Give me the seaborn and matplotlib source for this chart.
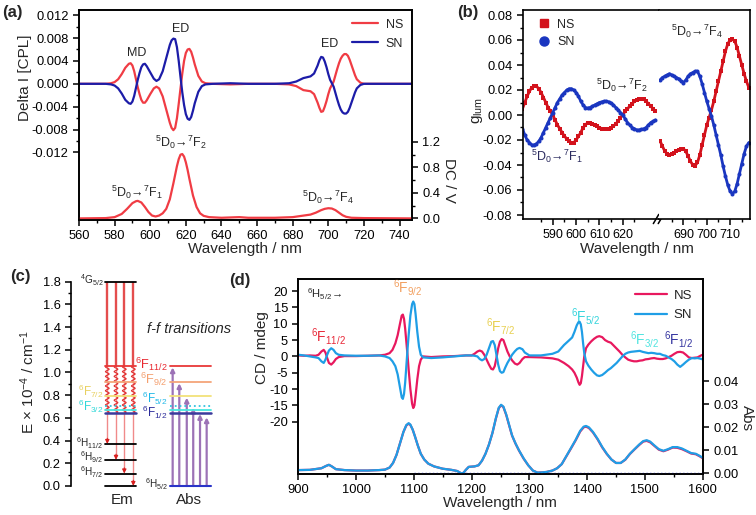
import numpy as np
import pandas as pd
import matplotlib
matplotlib.use("Agg")
import matplotlib.pyplot as plt
import seaborn as sns
from matplotlib.ticker import FixedLocator, MultipleLocator, FormatStrFormatter
from matplotlib.lines import Line2D

# ---------------- data: panel (a) CPL + emission ----------------
wl_cpl = [560, 575, 578, 580, 582, 584, 586, 588, 589, 590, 591, 592, 593, 594, 595, 596, 597, 598,
          600, 602, 603.5, 605, 607, 609, 611, 612, 613, 614, 615, 616, 617, 618, 619, 620, 621, 622,
          623, 624, 625, 627, 629, 631, 635, 645, 655, 670, 678, 682, 686, 690, 692, 694, 695, 696,
          697, 698, 699, 700, 701, 702, 703, 704, 705, 706, 707, 708, 709, 710, 711, 712, 713, 714,
          715, 716, 718, 720, 730, 747]
cpl_ns = [0, 0, 0.0001, 0.0003, 0.0008, 0.0017, 0.0028, 0.0035, 0.0036, 0.0032, 0.0022, 0.0008,
          -0.0006, -0.0018, -0.0028, -0.0033, -0.0033, -0.0029, -0.0018, -0.0008, -0.0005, -0.0008,
          -0.0022, -0.0045, -0.0068, -0.0077, -0.0081, -0.0077, -0.0060, -0.0035, -0.0008, 0.0018,
          0.0040, 0.0054, 0.0060, 0.0061, 0.0056, 0.0046, 0.0034, 0.0014, 0.0004, 0.0001, 0, -0.0001,
          0, 0, -0.0001, -0.0004, -0.0011, -0.0013, -0.0018, -0.0033, -0.0042, -0.0049, -0.0048,
          -0.0040, -0.0030, -0.0018, -0.0008, -0.0002, 0.0004, 0.0015, 0.0026, 0.0036, 0.0044,
          0.0049, 0.0052, 0.0052, 0.0049, 0.0042, 0.0033, 0.0024, 0.0015, 0.0008, 0.0002, 0, 0, 0]
cpl_sn = [0, 0, -0.0001, -0.0003, -0.0008, -0.0017, -0.0028, -0.0034, -0.0035, -0.0031, -0.0021,
          -0.0007, 0.0007, 0.0019, 0.0029, 0.0034, 0.0035, 0.0031, 0.0020, 0.0009, 0.0005, 0.0008,
          0.0022, 0.0045, 0.0068, 0.0076, 0.0079, 0.0078, 0.0064, 0.0040, 0.0012, -0.0015, -0.0037,
          -0.0053, -0.0061, -0.0063, -0.0058, -0.0047, -0.0034, -0.0014, -0.0004, -0.0001, 0, 0.0001,
          0, 0, 0.0001, 0.0004, 0.0010, 0.0013, 0.0018, 0.0032, 0.0041, 0.0047, 0.0046, 0.0039,
          0.0029, 0.0017, 0.0007, 0.0001, -0.0005, -0.0016, -0.0027, -0.0037, -0.0045, -0.0050,
          -0.0052, -0.0052, -0.0049, -0.0042, -0.0033, -0.0024, -0.0015, -0.0008, -0.0002, 0, 0, 0]
wl_em = [560, 575, 580, 584, 587, 590, 592, 593, 595, 597, 599, 601, 603, 605, 607, 609, 611, 613,
         615, 616, 617, 618, 619, 620, 621, 622, 624, 626, 628, 630, 633, 640, 650, 655, 670, 680,
         685, 690, 693, 696, 698, 700, 702, 704, 706, 708, 710, 713, 720, 747]
em_dc = [0, 0.005, 0.02, 0.07, 0.15, 0.24, 0.27, 0.275, 0.25, 0.18, 0.10, 0.045, 0.03, 0.045, 0.08,
         0.15, 0.30, 0.55, 0.82, 0.93, 1.00, 1.01, 0.97, 0.88, 0.76, 0.62, 0.36, 0.18, 0.08, 0.04,
         0.02, 0.01, 0.02, 0.01, 0.01, 0.02, 0.04, 0.06, 0.09, 0.13, 0.15, 0.16, 0.155, 0.13, 0.09,
         0.05, 0.025, 0.01, 0.005, 0]

# ---------------- data: panel (b) g_lum ----------------
wl_b1 = list(range(577, 635))
g_ns_1 = [0.005, 0.010, 0.015, 0.019, 0.022, 0.023, 0.023, 0.021, 0.018, 0.014, 0.010, 0.006, 0.003,
          0.0, -0.004, -0.008, -0.011, -0.014, -0.017, -0.019, -0.021, -0.022, -0.022, -0.020, -0.017,
          -0.014, -0.010, -0.008, -0.006, -0.006, -0.007, -0.008, -0.009, -0.010, -0.011, -0.0115,
          -0.0115, -0.011, -0.010, -0.009, -0.007, -0.005, -0.002, 0.0, 0.003, 0.005, 0.007, 0.009,
          0.011, 0.012, 0.0128, 0.013, 0.0125, 0.011, 0.009, 0.007, 0.005, 0.003]
g_sn_1 = [-0.011, -0.016, -0.020, -0.022, -0.024, -0.024, -0.023, -0.021, -0.018, -0.014, -0.010,
          -0.006, -0.002, 0.002, 0.006, 0.010, 0.013, 0.016, 0.018, 0.020, 0.021, 0.021, 0.020, 0.018,
          0.015, 0.011, 0.008, 0.006, 0.0055, 0.006, 0.007, 0.008, 0.009, 0.010, 0.0105, 0.011, 0.011,
          0.0105, 0.0095, 0.008, 0.006, 0.004, 0.002, 0.0, -0.003, -0.006, -0.008, -0.010, -0.011,
          -0.012, -0.012, -0.0115, -0.011, -0.010, -0.008, -0.006, -0.005, -0.004]
wl_b2 = list(range(680, 719))
g_ns_2 = [-0.021, -0.025, -0.029, -0.031, -0.032, -0.031, -0.030, -0.029, -0.028, -0.027, -0.027,
          -0.029, -0.033, -0.037, -0.040, -0.0405, -0.038, -0.032, -0.024, -0.016, -0.008, -0.002,
          0.004, 0.011, 0.019, 0.027, 0.035, 0.043, 0.051, 0.057, 0.060, 0.0605, 0.059, 0.054, 0.047,
          0.040, 0.033, 0.027, 0.022]
g_sn_2 = [0.028, 0.030, 0.031, 0.032, 0.033, 0.032, 0.031, 0.030, 0.029, 0.027, 0.026, 0.028, 0.031,
          0.033, 0.034, 0.035, 0.035, 0.031, 0.025, 0.018, 0.011, 0.005, -0.001, -0.008, -0.016,
          -0.024, -0.032, -0.041, -0.049, -0.056, -0.061, -0.063, -0.061, -0.055, -0.047, -0.039,
          -0.031, -0.025, -0.022]
ticks_b1 = [590, 600, 610, 620]
ticks_b2 = [690, 700, 710]

# ---------------- data: panel (c) energy levels (x 10^4 cm^-1) ----------------
em_level_names = ["$^4$G$_{5/2}$", "$^6$H$_{11/2}$", "$^6$H$_{9/2}$", "$^6$H$_{7/2}$"]
em_level_E = [1.80, 0.37, 0.23, 0.11]
f_level_E = [1.055, 0.913, 0.797, 0.708, 0.668, 0.640]
f_level_colors = ["#e83838", "#f4a57a", "#f2e27a", "#34c4e0", "#48e8e0", "#3a3a9c"]
em_targets = [0.37, 0.23, 0.11, 0.0]
abs_targets = [1.045, 0.905, 0.778, 0.690, 0.634, 0.605]

# ---------------- data: panel (d) CD + absorption ----------------
wl_cd = [900, 910, 920, 930, 935, 940, 944, 947, 950, 953, 957, 961, 965, 970, 980, 1000, 1020, 1040,
         1050, 1058, 1063, 1068, 1072, 1076, 1079, 1081, 1083, 1085, 1087, 1089, 1091, 1094, 1097,
         1099, 1101, 1103, 1106, 1109, 1112, 1116, 1130, 1150, 1170, 1190, 1200, 1205, 1210, 1214,
         1218, 1222, 1226, 1230, 1234, 1237, 1240, 1243, 1246, 1249, 1252, 1255, 1258, 1262, 1266,
         1270, 1275, 1279, 1283, 1288, 1292, 1300, 1320, 1340, 1350, 1360, 1368, 1374, 1378, 1382,
         1385, 1387, 1389, 1391, 1393, 1395, 1398, 1402, 1407, 1412, 1417, 1421, 1426, 1431, 1436,
         1441, 1446, 1451, 1456, 1461, 1466, 1471, 1476, 1481, 1486, 1491, 1496, 1501, 1506, 1511,
         1516, 1521, 1526, 1531, 1536, 1541, 1546, 1551, 1556, 1561, 1566, 1571, 1576, 1581, 1586,
         1591, 1596, 1600]
cd_ns = [0.3, 0.2, 0.3, 0.2, 0.5, 1.5, 2.0, 1.2, -0.5, -2.0, -2.5, -1.8, -0.8, -0.2, 0.1, 0.1, 0.2,
         0.3, 0.5, 1.0, 2.0, 4.0, 6.5, 10.0, 12.5, 12.8, 11.5, 8.5, 4.5, 0.5, -4.0, -10.0, -14.5,
         -15.8, -15.0, -12.0, -7.0, -3.0, -1.0, 0.0, -0.2, 0.0, 0.1, 0.3, 0.3, 0.8, 1.5, 1.8, 1.5,
         0.5, -1.0, -2.5, -3.8, -4.0, -3.0, -0.5, 2.5, 4.5, 5.3, 5.0, 3.5, 1.5, 0.0, -1.2, -2.2,
         -2.5, -2.0, -0.8, -0.2, -0.2, -0.3, -0.6, -1.0, -2.0, -3.0, -4.0, -5.0, -6.5, -8.0, -8.7,
         -8.2, -6.0, -3.0, 0.0, 2.5, 3.6, 4.6, 5.4, 6.0, 6.2, 5.9, 5.0, 4.5, 4.2, 3.3, 2.4, 1.5, 0.5,
         -0.3, -1.0, -1.3, -1.5, -1.5, -1.3, -1.2, -0.9, -0.8, -0.6, -0.5, -0.7, -0.8, -0.8, -0.6,
         -0.2, 0.2, 0.8, 1.3, 1.4, 1.2, 0.5, -0.3, -0.5, -0.4, -0.3, 0.2, 0.5]
cd_sn = [0.5, 0.3, 0.0, -0.3, -0.5, -1.5, -2.0, -1.0, 0.5, 1.8, 2.5, 2.0, 1.0, 0.5, 0.3, 0.2, 0.2,
         0.3, 0.0, -0.5, -1.5, -3.0, -5.5, -9.5, -12.5, -13.0, -11.5, -8.0, -3.0, 2.0, 6.5, 12.5,
         16.0, 16.8, 16.0, 13.0, 7.5, 3.0, 0.5, -0.3, -0.5, -0.3, 0.0, 0.3, 0.3, 0.2, 0.0, -0.8,
         -1.2, -0.8, 0.5, 2.5, 4.5, 4.7, 3.5, 0.5, -2.5, -4.5, -5.0, -4.8, -3.5, -2.0, -0.8, 0.5,
         1.6, 2.3, 2.6, 2.2, 1.2, 0.3, 0.3, 0.8, 1.5, 3.5, 4.8, 5.8, 7.5, 9.5, 10.5, 10.6, 9.8, 7.5,
         4.0, 1.0, -1.5, -2.8, -4.0, -5.0, -5.8, -6.0, -5.7, -5.0, -4.2, -3.6, -2.8, -2.0, -1.0, 0.0,
         0.8, 1.2, 1.4, 1.5, 1.6, 1.7, 1.4, 1.2, 1.0, 1.1, 1.0, 0.8, 0.8, 0.4, 0.2, -0.3, -0.8,
         -1.5, -2.5, -3.2, -2.5, -1.7, -1.0, -0.5, -0.6, -0.5, -0.7, -0.9]
wl_abs = [900, 920, 940, 948, 953, 958, 965, 980, 1000, 1020, 1040, 1050, 1058, 1064, 1070, 1076,
          1082, 1087, 1091, 1094, 1098, 1102, 1107, 1112, 1118, 1125, 1135, 1150, 1165, 1175, 1182,
          1186, 1190, 1195, 1205, 1212, 1218, 1224, 1230, 1236, 1242, 1247, 1251, 1255, 1260, 1265,
          1270, 1276, 1282, 1290, 1298, 1306, 1314, 1322, 1330, 1340, 1348, 1356, 1364, 1372, 1380,
          1388, 1394, 1398, 1403, 1410, 1418, 1426, 1434, 1442, 1450, 1458, 1466, 1474, 1482, 1490,
          1497, 1503, 1509, 1516, 1524, 1532, 1540, 1548, 1556, 1564, 1572, 1580, 1588, 1594, 1600]
abs_sn = [0.0014, 0.0015, 0.0022, 0.0032, 0.0037, 0.0030, 0.0018, 0.0014, 0.0012, 0.0012, 0.0014,
          0.0016, 0.0025, 0.0045, 0.0080, 0.0130, 0.0180, 0.0210, 0.0218, 0.0212, 0.0190, 0.0160,
          0.0120, 0.0085, 0.0060, 0.0042, 0.0030, 0.0020, 0.0015, 0.0010, 0.0, 0.0002, 0.0015,
          0.0028, 0.0030, 0.0035, 0.0055, 0.0085, 0.0125, 0.0175, 0.0240, 0.0285, 0.0298, 0.0290,
          0.0255, 0.0210, 0.0165, 0.0130, 0.0100, 0.0065, 0.0035, 0.0012, 0.0003, 0.0004, 0.0006,
          0.0012, 0.0022, 0.0040, 0.0075, 0.0110, 0.0145, 0.0185, 0.0203, 0.0206, 0.0200, 0.0180,
          0.0150, 0.0115, 0.0085, 0.0060, 0.0045, 0.0045, 0.0060, 0.0085, 0.0105, 0.0125, 0.0140,
          0.0144, 0.0138, 0.0122, 0.0105, 0.0098, 0.0105, 0.0114, 0.0114, 0.0108, 0.0098, 0.0088,
          0.0085, 0.0077, 0.0068]
abs_ns = [0.0014, 0.0015, 0.0022, 0.0032, 0.0037, 0.0030, 0.0018, 0.0014, 0.0012, 0.0012, 0.0014,
          0.0016, 0.0025, 0.0045, 0.0080, 0.0130, 0.0180, 0.0208, 0.0216, 0.0210, 0.0190, 0.0160,
          0.0120, 0.0085, 0.0060, 0.0042, 0.0030, 0.0020, 0.0015, 0.0010, 0.0, 0.0002, 0.0015,
          0.0028, 0.0030, 0.0035, 0.0055, 0.0085, 0.0125, 0.0175, 0.0238, 0.0283, 0.0296, 0.0288,
          0.0253, 0.0208, 0.0164, 0.0129, 0.0099, 0.0064, 0.0035, 0.0012, 0.0003, 0.0004, 0.0006,
          0.0012, 0.0022, 0.0040, 0.0074, 0.0108, 0.0143, 0.0182, 0.0200, 0.0203, 0.0197, 0.0178,
          0.0148, 0.0113, 0.0084, 0.0060, 0.0045, 0.0045, 0.0059, 0.0084, 0.0104, 0.0123, 0.0138,
          0.0141, 0.0135, 0.0120, 0.0103, 0.0096, 0.0103, 0.0112, 0.0111, 0.0105, 0.0096, 0.0086,
          0.0083, 0.0075, 0.0066]

# ---------------- style ----------------
sns.set_style("ticks")
plt.rcParams.update({
    "font.family": ["Liberation Sans", "DejaVu Sans"],
    "font.size": 9.3,
    "axes.linewidth": 1.2,
    "axes.edgecolor": "black",
    "xtick.color": "black", "ytick.color": "black",
    "xtick.labelcolor": "black", "ytick.labelcolor": "black",
    "xtick.direction": "out", "ytick.direction": "out",
    "xtick.major.size": 4, "ytick.major.size": 4,
    "xtick.minor.size": 2.2, "ytick.minor.size": 2.2,
    "xtick.major.width": 1.1, "ytick.major.width": 1.1,
    "xtick.minor.width": 1.0, "ytick.minor.width": 1.0,
    "xtick.labelsize": 9.3, "ytick.labelsize": 9.3,
    "axes.labelsize": 11,
    "axes.unicode_minus": False,
    "mathtext.fontset": "custom",
    "mathtext.rm": "Liberation Sans",
    "mathtext.it": "Liberation Sans:italic",
    "mathtext.bf": "Liberation Sans:bold",
    "legend.frameon": False,
})

W, H = 756, 515
fig = plt.figure(figsize=(W / 100, H / 100), dpi=100)


def box(l, t, r, b):
    return [l / W, 1 - b / H, (r - l) / W, (b - t) / H]


# ---------------- panel (a) ----------------
RED_A, NAVY_A = "#f03c44", "#1c1ca8"
axA = fig.add_axes(box(79, 10, 412, 220))
sns.lineplot(x=wl_cpl, y=cpl_ns, ax=axA, color=RED_A, lw=1.6, label="NS")
sns.lineplot(x=wl_cpl, y=cpl_sn, ax=axA, color=NAVY_A, lw=1.6, label="SN")
axA.set_xlim(560, 747)
axA.set_ylim(-0.0238, 0.0129)
axA.yaxis.set_major_locator(FixedLocator([-0.012, -0.008, -0.004, 0, 0.004, 0.008, 0.012]))
axA.yaxis.set_minor_locator(FixedLocator([-0.010, -0.006, -0.002, 0.002, 0.006, 0.010]))
axA.yaxis.set_major_formatter(FormatStrFormatter("%.3f"))
axA.xaxis.set_major_locator(MultipleLocator(20))
axA.xaxis.set_minor_locator(MultipleLocator(10))
axA.set_xlabel("Wavelength / nm", ha="center", va="center")
axA.xaxis.set_label_coords(0.4985, -0.14)
axA.set_ylabel("Delta I [CPL]", ha="center", va="center")
axA.yaxis.set_label_coords(-0.162, 0.676)
axA.legend(loc="upper right", bbox_to_anchor=(1.0, 1.0), fontsize=9, handlelength=2.1,
           handletextpad=0.6, labelspacing=0.55, borderaxespad=0.3)

axA2 = axA.twinx()
sns.lineplot(x=wl_em, y=em_dc, ax=axA2, color=RED_A, lw=1.6)
axA2.set_ylim(-0.025, 3.27)
axA2.yaxis.set_major_locator(FixedLocator([0, 0.4, 0.8, 1.2]))
axA2.yaxis.set_minor_locator(FixedLocator([0.2, 0.6, 1.0]))
axA2.yaxis.set_major_formatter(FormatStrFormatter("%.1f"))
axA2.set_ylabel("DC / V", rotation=270, ha="center", va="center")
axA2.yaxis.set_label_coords(1.111, 0.19)

txtA = dict(ha="center", va="center", fontsize=9)
axA.text(592.4, 0.0053, "MD", **txtA)
axA.text(617.2, 0.0095, "ED", **txtA)
axA.text(700.8, 0.0070, "ED", **txtA)
axA.text(617.2, -0.0103, "$^5$D$_0$→$^7$F$_2$", **txtA)
axA.text(592.4, -0.0190, "$^5$D$_0$→$^7$F$_1$", **txtA)
axA.text(699.8, -0.0199, "$^5$D$_0$→$^7$F$_4$", **txtA)

# ---------------- panel (b) ----------------
RED_B, BLUE_B = "#d3121c", "#1a36c0"
pxnm = 2.333
xb1 = (577.1, 577.1 + 135.8 / pxnm)
xb2 = (679.3, 679.3 + 91.5 / pxnm)
axB1 = fig.add_axes(box(522.7, 10, 658.5, 219))
axB2 = fig.add_axes(box(658.5, 10, 750, 219))
for ax, wl, gn, gs, tk in [(axB1, wl_b1, g_ns_1, g_sn_1, ticks_b1),
                           (axB2, wl_b2, g_ns_2, g_sn_2, ticks_b2)]:
    sns.lineplot(x=wl, y=gn, ax=ax, color=RED_B, lw=2.0, marker="s", markersize=2.6,
                 markeredgewidth=0)
    sns.lineplot(x=wl, y=gs, ax=ax, color=BLUE_B, lw=2.0, marker="o", markersize=2.9,
                 markeredgewidth=0)
    ax.set_ylim(-0.0832, 0.084)
    ax.yaxis.set_major_locator(MultipleLocator(0.02))
    ax.yaxis.set_minor_locator(MultipleLocator(0.01))
    ax.yaxis.set_major_formatter(FormatStrFormatter("%.2f"))
    ax.xaxis.set_major_locator(FixedLocator(tk))
    ax.xaxis.set_minor_locator(FixedLocator([t + 5 for t in tk] + [tk[0] - 5]))
    ax.tick_params(axis="x", labelsize=9)
axB1.set_xlim(*xb1)
axB2.set_xlim(*xb2)
axB1.spines["right"].set_visible(False)
axB2.spines["left"].set_visible(False)
axB2.tick_params(axis="y", which="both", left=False, labelleft=False)
axB1.set_ylabel("g$_{\\rm lum}$", ha="center", va="center")
axB1.yaxis.set_label_coords(-0.33, 0.5215)
fig.text(636.7 / W, 1 - 249 / H, "Wavelength / nm", ha="center", va="center", fontsize=11)
for dx in (-0.018, 0.018):
    axB1.plot([1 + dx - 0.02, 1 + dx + 0.02], [-0.022, 0.022], transform=axB1.transAxes,
              color="black", lw=1.1, clip_on=False)
hb = [Line2D([], [], marker="s", ls="none", color=RED_B, markersize=6),
      Line2D([], [], marker="o", ls="none", color=BLUE_B, markersize=6.5)]
axB1.legend(hb, ["NS", "SN"], loc="upper left", bbox_to_anchor=(0.05, 1.0), fontsize=9,
            handlelength=1.0, handletextpad=0.5, labelspacing=0.45, borderaxespad=0.3)
txtB = dict(ha="center", va="center", fontsize=9)
axB2.text(695.7, 0.0666, "$^5$D$_0$→$^7$F$_4$", **txtB)
axB1.text(619.6, 0.0240, "$^5$D$_0$→$^7$F$_2$", **txtB)
axB1.text(591.8, -0.0334, "$^5$D$_0$→$^7$F$_1$", color="#2a2a5e", **txtB)

# ---------------- panel (c) ----------------
axC = fig.add_axes(box(71, 281.7, 241, 486))
axC.set_xlim(0, 1)
axC.set_ylim(0, 1.8)
for s in ("top", "right", "bottom"):
    axC.spines[s].set_visible(False)
axC.tick_params(axis="x", which="both", bottom=False, labelbottom=False)
axC.yaxis.set_major_locator(MultipleLocator(0.2))
axC.yaxis.set_minor_locator(MultipleLocator(0.1))
axC.yaxis.set_major_formatter(FormatStrFormatter("%.1f"))
axC.set_ylabel("E × 10$^{-4}$ / cm$^{-1}$", ha="center", va="center")
axC.yaxis.set_label_coords(-0.253, 0.509)

em_x0, em_x1 = 0.20, 0.382
ab_x0, ab_x1 = 0.582, 0.822
em_cols = [0.2135, 0.2647, 0.3135, 0.3665]
ab_cols = [0.598, 0.637, 0.681, 0.719, 0.759, 0.798]
top_f = f_level_E[0]
low_f = f_level_E[-1]
for xc, tgt in zip(em_cols, em_targets):
    axC.plot([xc, xc], [em_level_E[0], top_f], color="#e23a3a", lw=1.7, alpha=0.9, zorder=2)
    axC.plot([xc, xc], [top_f, tgt + 0.03], color="#f08a8a", lw=1.0, zorder=1)
    axC.annotate("", xy=(xc, tgt), xytext=(xc, tgt + 0.05),
                 arrowprops=dict(arrowstyle="-|>", color="#d82020", lw=0.8, mutation_scale=6,
                                 shrinkA=0, shrinkB=0))
    yy = np.linspace(low_f, top_f, 200)
    axC.plot(xc + 0.011 * np.sin(2 * np.pi * (yy - low_f) / 0.042), yy, color="#e03030",
             lw=0.8, zorder=3)
for xc, tgt in zip(ab_cols, abs_targets):
    axC.annotate("", xy=(xc, tgt), xytext=(xc, 0),
                 arrowprops=dict(arrowstyle="-|>", color="#9c72b6", lw=1.6, mutation_scale=6,
                                 shrinkA=0, shrinkB=0))
for e in em_level_E + [0.0]:
    axC.plot([em_x0, em_x1], [e, e], color="black", lw=1.3, clip_on=False, zorder=4)
for e, c in zip(f_level_E, f_level_colors):
    ls = ":" if c == "#34c4e0" else "-"
    lw = 1.8 if c == "#3a3a9c" else 1.3
    axC.plot([em_x0, em_x1], [e, e], color=c, lw=lw, ls=ls, zorder=4)
    axC.plot([ab_x0, ab_x1], [e, e], color=c, lw=lw, ls=ls, zorder=4)
axC.plot([ab_x0, ab_x1], [0, 0], color="#2a34c8", lw=1.5, clip_on=False, zorder=4)

lblC = dict(ha="right", va="center", fontsize=7.2)
axC.text(0.19, 1.815, em_level_names[0], **lblC)
axC.text(0.19, 0.378, em_level_names[1], **lblC)
axC.text(0.19, 0.256, em_level_names[2], **lblC)
axC.text(0.19, 0.124, em_level_names[3], **lblC)
axC.text(0.19, 0.835, "$^6$F$_{7/2}$", color="#e8d060", ha="right", va="center", fontsize=8.5)
axC.text(0.19, 0.70, "$^6$F$_{3/2}$", color="#30d8d8", ha="right", va="center", fontsize=8.5)
axC.text(0.57, 1.075, "$^6$F$_{11/2}$", color="#e82830", ha="right", va="center", fontsize=9.3)
axC.text(0.57, 0.94, "$^6$F$_{9/2}$", color="#f4a070", ha="right", va="center", fontsize=9.3)
axC.text(0.57, 0.768, "$^6$F$_{5/2}$", color="#20b8e8", ha="right", va="center", fontsize=8.5)
axC.text(0.57, 0.650, "$^6$F$_{1/2}$", color="#2a2a9a", ha="right", va="center", fontsize=8.5)
axC.text(0.57, 0.015, "$^6$H$_{5/2}$", ha="right", va="center", fontsize=7.2)
axC.text(0.694, 1.383, "f-f transitions", style="italic", ha="center", va="center", fontsize=10.5)
axC.text(0.298, -0.123, "Em", ha="center", va="center", fontsize=11)
axC.text(0.696, -0.123, "Abs", ha="center", va="center", fontsize=11)

# ---------------- panel (d) ----------------
PINK_D, BLUE_D = "#e8185e", "#1f9ee6"
axD = fig.add_axes(box(298.3, 279, 702.7, 474))
sns.lineplot(x=wl_cd, y=cd_ns, ax=axD, color=PINK_D, lw=1.6, label="NS")
sns.lineplot(x=wl_cd, y=cd_sn, ax=axD, color=BLUE_D, lw=1.6, label="SN")
axD.set_xlim(900, 1600)
axD.set_ylim(-36, 23.7)
axD.yaxis.set_major_locator(FixedLocator([-20, -15, -10, -5, 0, 5, 10, 15, 20]))
axD.xaxis.set_major_locator(MultipleLocator(100))
axD.xaxis.set_minor_locator(MultipleLocator(50))
axD.set_xlabel("Wavelength / nm", ha="center", va="center")
axD.xaxis.set_label_coords(0.4988, -0.149)
axD.set_ylabel("CD / mdeg", ha="center", va="center")
axD.yaxis.set_label_coords(-0.0905, 0.649)
axD.legend(loc="upper right", bbox_to_anchor=(1.0, 1.0), fontsize=9.5, handlelength=2.4,
           handletextpad=0.5, labelspacing=0.55, borderaxespad=0.4)

axD2 = axD.twinx()
sns.lineplot(x=wl_abs, y=abs_ns, ax=axD2, color=PINK_D, lw=1.6)
sns.lineplot(x=wl_abs, y=abs_sn, ax=axD2, color=BLUE_D, lw=1.6)
axD2.axhline(0, xmin=200 / 700, xmax=1.0, color="#2a34c8", lw=1.0, ls=":")
axD2.set_ylim(-0.0003, 0.0845)
axD2.yaxis.set_major_locator(FixedLocator([0, 0.01, 0.02, 0.03, 0.04]))
axD2.yaxis.set_major_formatter(FormatStrFormatter("%.2f"))
axD2.set_ylabel("Abs", rotation=270, ha="center", va="center")
axD2.yaxis.set_label_coords(1.109, 0.287)

axD.text(914.7, 18.9, "$^6$H$_{5/2}$→", ha="left", va="center", fontsize=8)
txtD = dict(ha="center", va="center", fontsize=10)
axD.text(1089.9, 21.0, "$^6$F$_{9/2}$", color="#f2a060", **txtD)
axD.text(951.4, 6.0, "$^6$F$_{11/2}$", color="#e82838", **txtD)
axD.text(1250.9, 9.1, "$^6$F$_{7/2}$", color="#e8d050", **txtD)
axD.text(1398.0, 12.2, "$^6$F$_{5/2}$", color="#34d4dc", **txtD)
axD.text(1500.0, 5.1, "$^6$F$_{3/2}$", color="#50e4e0", **txtD)
axD.text(1558.9, 5.1, "$^6$F$_{1/2}$", color="#3434a0", **txtD)

# ---------------- panel letters ----------------
for (px, py, s) in [(12.5, 12, "(a)"), (468, 12, "(b)"), (20, 276, "(c)"), (240, 281, "(d)")]:
    fig.text(px / W, 1 - py / H, s, ha="center", va="center", fontsize=12, fontweight="bold")

fig.savefig("out.png", dpi=100)
